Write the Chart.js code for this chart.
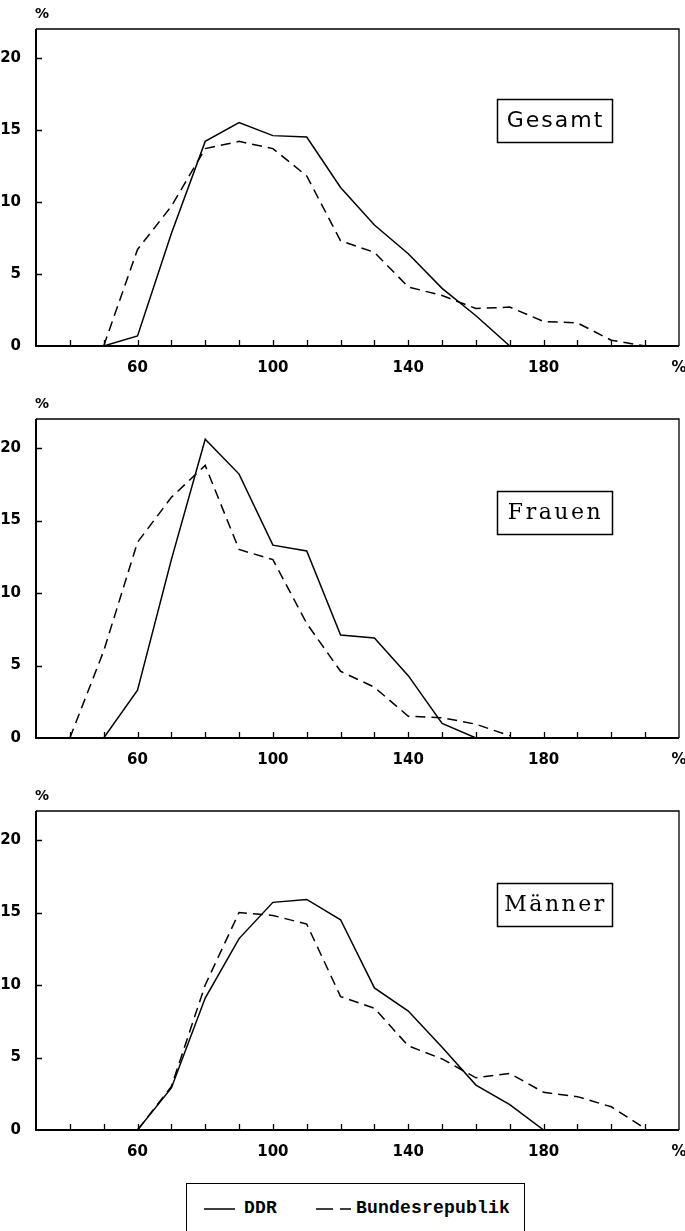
<!DOCTYPE html>
<html><head><meta charset="utf-8">
<script src="https://cdn.jsdelivr.net/npm/chart.js@4.4.1/dist/chart.umd.min.js"></script>
<style>
html,body{margin:0;padding:0;background:#fff;width:685px;height:1231px;overflow:hidden;position:relative}
.wrap{position:absolute;left:0;width:685px}
#legend{position:absolute;left:186px;top:1183px;width:339px;height:70px;border:1.5px solid #000;box-sizing:border-box;font-family:"Liberation Mono",monospace;font-weight:bold;font-size:18px;letter-spacing:0.2px;color:#000}
#legend svg{position:absolute;top:18px}
#legend span{position:absolute;top:14px;line-height:20px}
</style></head><body>
<div class="wrap" style="top:0;height:380px"><canvas id="c1"></canvas></div>
<div class="wrap" style="top:380px;height:390px"><canvas id="c2"></canvas></div>
<div class="wrap" style="top:770px;height:400px"><canvas id="c3"></canvas></div>
<div id="legend">
  <svg style="left:17px" width="32" height="14"><line x1="0" y1="7" x2="31" y2="7" stroke="#000" stroke-width="1.5"/></svg>
  <span style="left:57px">DDR</span>
  <svg style="left:129px" width="36" height="14"><line x1="0" y1="7" x2="35" y2="7" stroke="#000" stroke-width="1.5" stroke-dasharray="17,7"/></svg>
  <span style="left:169px">Bundesrepublik</span>
</div>
<script>
// x categories (percent of mean)
const xCats = [40,50,60,70,80,90,100,110,120,130,140,150,160,170,180,190,200,210];
// Gesamt
const gesamtDDR = [null,0,0.7,7.8,14.2,15.5,14.6,14.5,11.0,8.4,6.4,4.0,2.1,0,null,null,null,null];
const gesamtBRD = [null,0,6.7,9.7,13.7,14.2,13.7,11.8,7.3,6.5,4.1,3.5,2.6,2.7,1.7,1.6,0.4,0];
// Frauen
const frauenDDR = [null,0,3.3,12.3,20.6,18.2,13.3,12.9,7.1,6.9,4.3,1.0,0,null,null,null,null,null];
const frauenBRD = [0,6.0,13.5,16.6,18.8,13.0,12.3,7.9,4.6,3.5,1.5,1.4,0.95,0.15,null,null,null,null];
// Männer
const maennerDDR = [null,null,0,2.9,9.1,13.2,15.7,15.9,14.5,9.8,8.2,5.7,3.1,1.75,0,null,null,null];
const maennerBRD = [null,null,0,3.0,10.0,15.0,14.8,14.2,9.2,8.4,5.8,4.9,3.6,3.9,2.6,2.3,1.6,0.1];
// ticks
const xTickValues = [40,50,60,70,80,90,100,110,120,130,140,150,160,170,180,190,200,210,220];
const xTickLabels = {60:'60',100:'100',140:'140',180:'180',220:'%'};
const yTickValues = [0,5,10,15,20];
const seriesNames = ['DDR','Bundesrepublik'];
const panelTitles = ['Gesamt','Frauen','Männer'];

function pts(arr){ return xCats.map((x,i)=>({x:x,y:arr[i]})).filter(p=>p.y!==null); }

const panels = [
  {id:'c1', h:380, top:29, bottom:346, title:panelTitles[0], font:'22px "DejaVu Sans"', ls:'2px', ddr:gesamtDDR, brd:gesamtBRD},
  {id:'c2', h:390, top:39, bottom:358, title:panelTitles[1], font:'22px "DejaVu Serif"', ls:'2.5px', ddr:frauenDDR, brd:frauenBRD},
  {id:'c3', h:400, top:41, bottom:360, title:panelTitles[2], font:'22px "DejaVu Serif"', ls:'2.5px', ddr:maennerDDR, brd:maennerBRD}
];

const framePlugin = {
  id:'frame',
  afterDraw(chart, args, opts){
    const {ctx, chartArea:a, scales} = chart;
    const xs = scales.x, ys = scales.y;
    ctx.save();
    ctx.strokeStyle = '#000';
    ctx.lineWidth = 1.3;
    ctx.beginPath();
    ctx.moveTo(a.left, a.top); ctx.lineTo(a.right, a.top); ctx.lineTo(a.right, a.bottom);
    ctx.stroke();
    ctx.lineWidth = 2;
    ctx.beginPath();
    ctx.moveTo(a.left, a.top); ctx.lineTo(a.left, a.bottom); ctx.lineTo(a.right, a.bottom);
    ctx.stroke();
    ctx.lineWidth = 1.3;
    ctx.beginPath();
    xs.ticks.forEach(t=>{
      if (t.value <= xs.min || t.value >= xs.max) return;
      const px = Math.round(xs.getPixelForValue(t.value)) + 0.5;
      ctx.moveTo(px, a.bottom); ctx.lineTo(px, a.bottom - 6);
    });
    ys.ticks.forEach(t=>{
      if (t.value <= ys.min) return;
      const py = Math.round(ys.getPixelForValue(t.value)) + 0.5;
      ctx.moveTo(a.left, py); ctx.lineTo(a.left + 6, py);
    });
    ctx.stroke();
    ctx.fillStyle = '#000';
    ctx.font = 'bold 14px "DejaVu Sans"';
    ctx.textAlign = 'center';
    ctx.textBaseline = 'middle';
    ctx.fillText('%', a.left + 6, a.top - 15);
    const bx = 497, bw = 115, bh = 43, by = a.bottom - 247;
    ctx.lineWidth = 1.5;
    ctx.strokeRect(bx + 0.5, by + 0.5, bw, bh);
    ctx.font = opts.font;
    if ('letterSpacing' in ctx) ctx.letterSpacing = opts.ls;
    ctx.fillText(opts.title, bx + bw/2 + 1, by + bh/2 + 1);
    ctx.restore();
  }
};

panels.forEach(p=>{
  const cv = document.getElementById(p.id);
  cv.parentNode.style.height = p.h + 'px';
  new Chart(cv, {
    type:'line',
    data:{datasets:[
      {label:seriesNames[0], data:pts(p.ddr), borderColor:'#000', borderWidth:1.5, pointRadius:0, tension:0, fill:false},
      {label:seriesNames[1], data:pts(p.brd), borderColor:'#000', borderWidth:1.5, borderDash:[10,6], pointRadius:0, tension:0, fill:false}
    ]},
    options:{
      responsive:true, maintainAspectRatio:false, animation:false,
      devicePixelRatio:1,
      layout:{padding:{top:p.top, right:0, left:0, bottom:0}},
      plugins:{legend:{display:false}, tooltip:{enabled:false}, frame:{title:p.title, font:p.font, ls:p.ls}},
      scales:{
        x:{type:'linear', min:30, max:220,
          afterBuildTicks:(s)=>{ s.ticks = xTickValues.map(v=>({value:v})); },
          afterFit:(s)=>{ s.height = p.h - p.bottom; s.paddingLeft = 0; s.paddingRight = 6; },
          grid:{display:false}, border:{display:false},
          ticks:{autoSkip:false, maxRotation:0, padding:5, color:'#000',
            font:{family:'DejaVu Sans', weight:'bold', size:15},
            callback:(v)=> xTickLabels[v] || ''}
        },
        y:{type:'linear', min:0, max:22,
          afterBuildTicks:(s)=>{ s.ticks = yTickValues.map(v=>({value:v})); },
          afterFit:(s)=>{ s.width = 36; s.paddingTop = 0; s.paddingBottom = 0; },
          grid:{display:false}, border:{display:false},
          ticks:{padding:7, color:'#000', font:{family:'DejaVu Sans', weight:'bold', size:15}}
        }
      }
    },
    plugins:[framePlugin]
  });
});
</script>
</body></html>
